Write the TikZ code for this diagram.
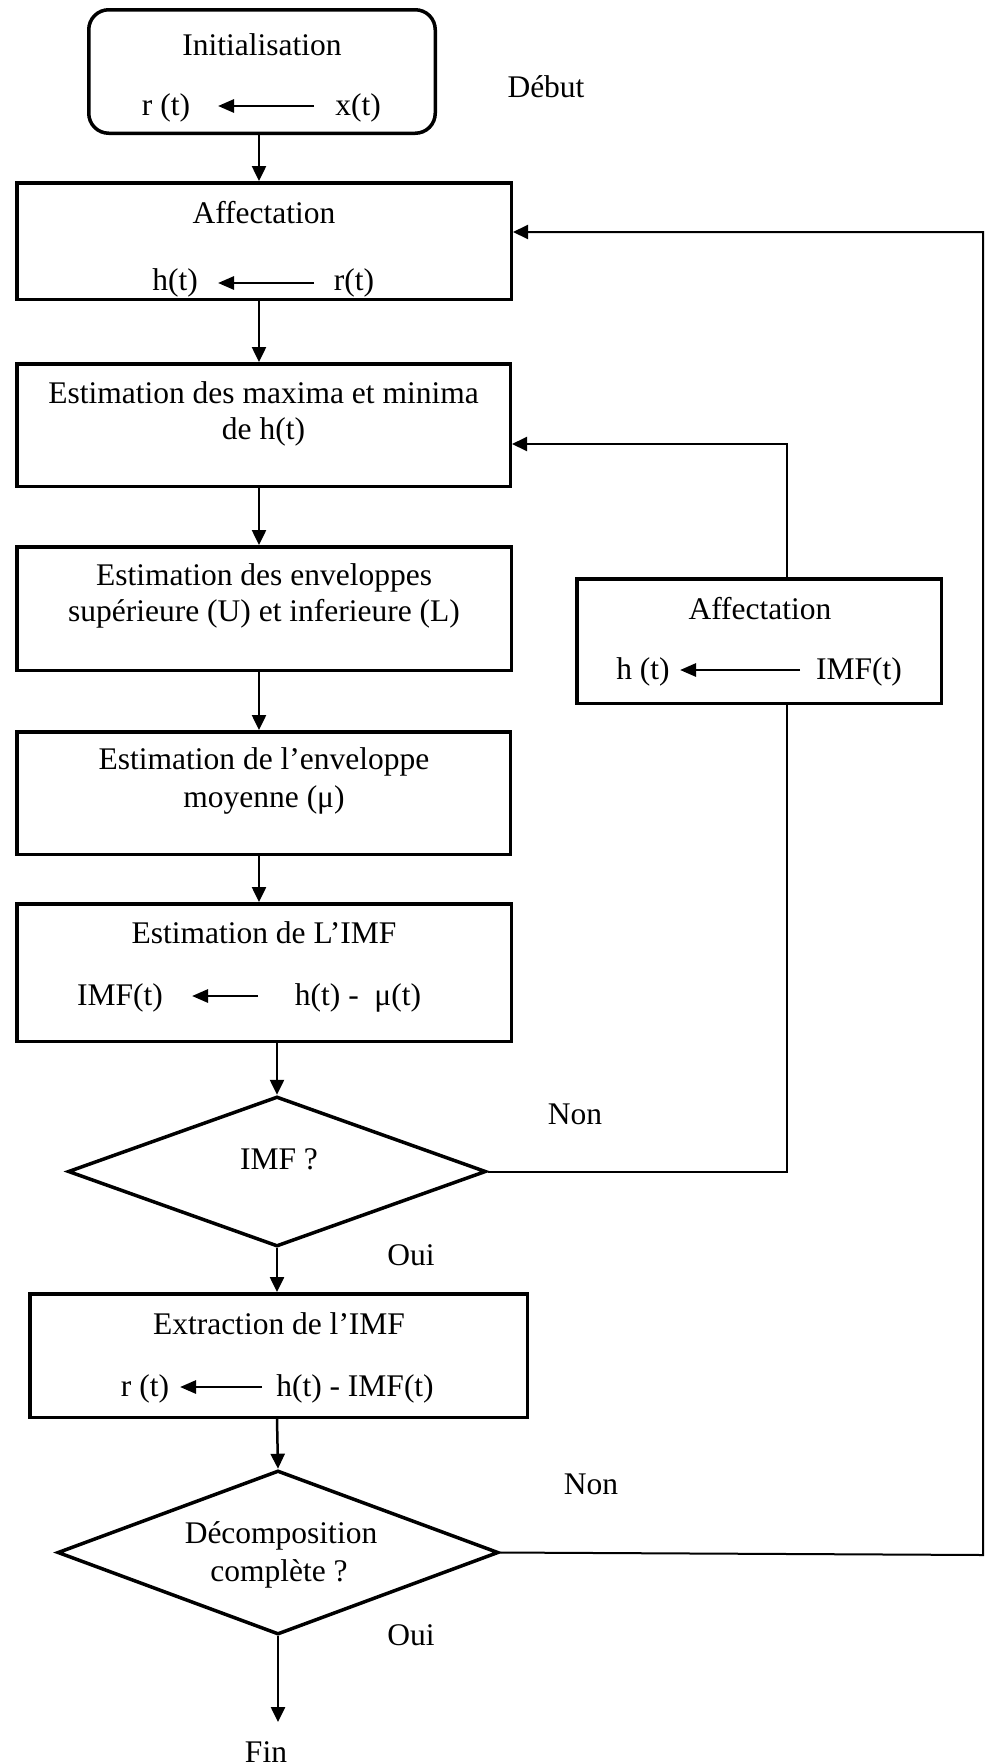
\documentclass[tikz,border=0pt]{standalone}
\usepackage{fontspec}
\setmainfont{Liberation Serif}
\usetikzlibrary{shapes.geometric,arrows.meta}
\begin{document}
\begin{tikzpicture}[x=1pt,y=-1pt,
  box/.style={draw,line width=3.5pt,inner sep=0pt,rectangle},
  dia/.style={draw,line width=3.5pt,inner sep=0pt,diamond},
  txt/.style={inner sep=0pt,font=\fontsize{31.5}{38}\selectfont},
  arr/.style={line width=2.5pt,-{Triangle[length=15pt,width=14pt]}},
  inarr/.style={line width=2.8pt,-{Triangle[length=16pt,width=13pt]}},
  lp/.style={line width=2pt},
  lpa/.style={line width=2pt,-{Triangle[length=15pt,width=14pt]}}]
\useasboundingbox (0,0) rectangle (986,1764);

% boxes
\node[box,rounded corners=20pt,minimum width=346.5pt,minimum height=123.5pt] (init) at (262,71.5) {};
\node[box,minimum width=494.5pt,minimum height=116.5pt] (aff) at (264,241) {};
\node[box,minimum width=493.5pt,minimum height=122.5pt] (max) at (263.5,425) {};
\node[box,minimum width=494.5pt,minimum height=123.5pt] (env) at (264,608.5) {};
\node[box,minimum width=493.5pt,minimum height=122.5pt] (moy) at (263.5,793) {};
\node[box,minimum width=494.5pt,minimum height=137.5pt] (est) at (264,972.5) {};
\node[dia,minimum width=418pt,minimum height=150pt] (dimf) at (277,1171.5) {};
\node[box,minimum width=497.5pt,minimum height=123.5pt] (ext) at (278.5,1355.5) {};
\node[dia,minimum width=441pt,minimum height=164pt] (ddec) at (278,1552.5) {};
\node[box,minimum width=364.5pt,minimum height=124.5pt] (rbox) at (759,641) {};

% texts in boxes
\node[txt] (t1) at (262,45) {Initialisation};
\node[txt] (t1a) at (166,108) {r (t)};
\node[txt] (t1b) at (358,108) {x(t)};
\coordinate (a1s) at (314,106);
\coordinate (a1e) at (218,106);
\draw[inarr] (a1s) -- (a1e);

\node[txt] (t2) at (264,213) {Affectation};
\node[txt] (t2a) at (175,283) {h(t)};
\node[txt] (t2b) at (354,283) {r(t)};
\coordinate (a2s) at (314,283);
\coordinate (a2e) at (218,283);
\draw[inarr] (a2s) -- (a2e);

\node[txt] (t3) at (263.5,393) {Estimation des maxima et minima};
\node[txt] (t3b) at (263.5,432) {de h(t)};

\node[txt] (t4) at (264,578) {Estimation des enveloppes};
\node[txt] (t4b) at (264,614) {supérieure (U) et inferieure (L)};

\node[txt] (t5) at (264,762) {Estimation de l’enveloppe};
\node[txt] (t5b) at (264,800) {moyenne (μ)};

\node[txt] (t6) at (264,933) {Estimation de L’IMF};
\node[txt] (t6a) at (120,998) {IMF(t)};
\node[txt] (t6b) at (358,998) {h(t) -~ μ(t)};
\coordinate (a6s) at (258,996);
\coordinate (a6e) at (192,996);
\draw[inarr] (a6s) -- (a6e);

\node[txt] (t7) at (279,1159) {IMF ?};

\node[txt] (t8) at (279,1324) {Extraction de l’IMF};
\node[txt] (t8a) at (145,1389) {r (t)};
\node[txt] (t8b) at (355,1389) {h(t) - IMF(t)};
\coordinate (a8s) at (262,1387);
\coordinate (a8e) at (180,1387);
\draw[inarr] (a8s) -- (a8e);

\node[txt] (t9) at (281,1536) {Décomposition};
\node[txt] (t9b) at (279,1574) {complète ?};

\node[txt] (t10) at (760,609) {Affectation};
\node[txt] (t10a) at (643,672) {h (t)};
\node[txt] (t10b) at (859,672) {IMF(t)};
\coordinate (a10s) at (800,670);
\coordinate (a10e) at (680,670);
\draw[inarr] (a10s) -- (a10e);

% free labels
\node[txt] (debut) at (546,87) {Début};
\node[txt] (non1) at (575,1114) {Non};
\node[txt] (oui1) at (411,1255) {Oui};
\node[txt] (non2) at (591,1484) {Non};
\node[txt] (oui2) at (411,1635) {Oui};
\node[txt] (fin) at (266,1752) {Fin};

% main column connectors
\coordinate (col1) at (259,0);
\coordinate (col2) at (277,0);
\draw[arr] (init.south -| col1) -- (aff.north -| col1);
\draw[arr] (aff.south -| col1) -- (max.north -| col1);
\draw[arr] (max.south -| col1) -- (env.north -| col1);
\draw[arr] (env.south -| col1) -- (moy.north -| col1);
\draw[arr] (moy.south -| col1) -- (est.north -| col1);
\draw[arr] (est.south -| col2) -- (dimf.north);
\draw[arr] (dimf.south) -- (ext.north -| col2);
\draw[arr] (ext.south -| col2) -- (ddec.north);
\coordinate (finarr) at (278,1722);
\draw[arr] (ddec.south) -- (finarr);

% inner loop
\coordinate (c1) at (787,1171.5);
\coordinate (c2) at (787,444);
\draw[lp] (dimf.east) -- (c1) -- (rbox.south -| c1);
\draw[lpa] (rbox.north -| c2) -- (c2) -- (c2 -| max.east);

% outer loop
\coordinate (c3) at (983,1555);
\coordinate (c4) at (983,232);
\draw[lpa] (ddec.east) -- (c3) -- (c4) -- (c4 -| aff.east);
\end{tikzpicture}
\end{document}
